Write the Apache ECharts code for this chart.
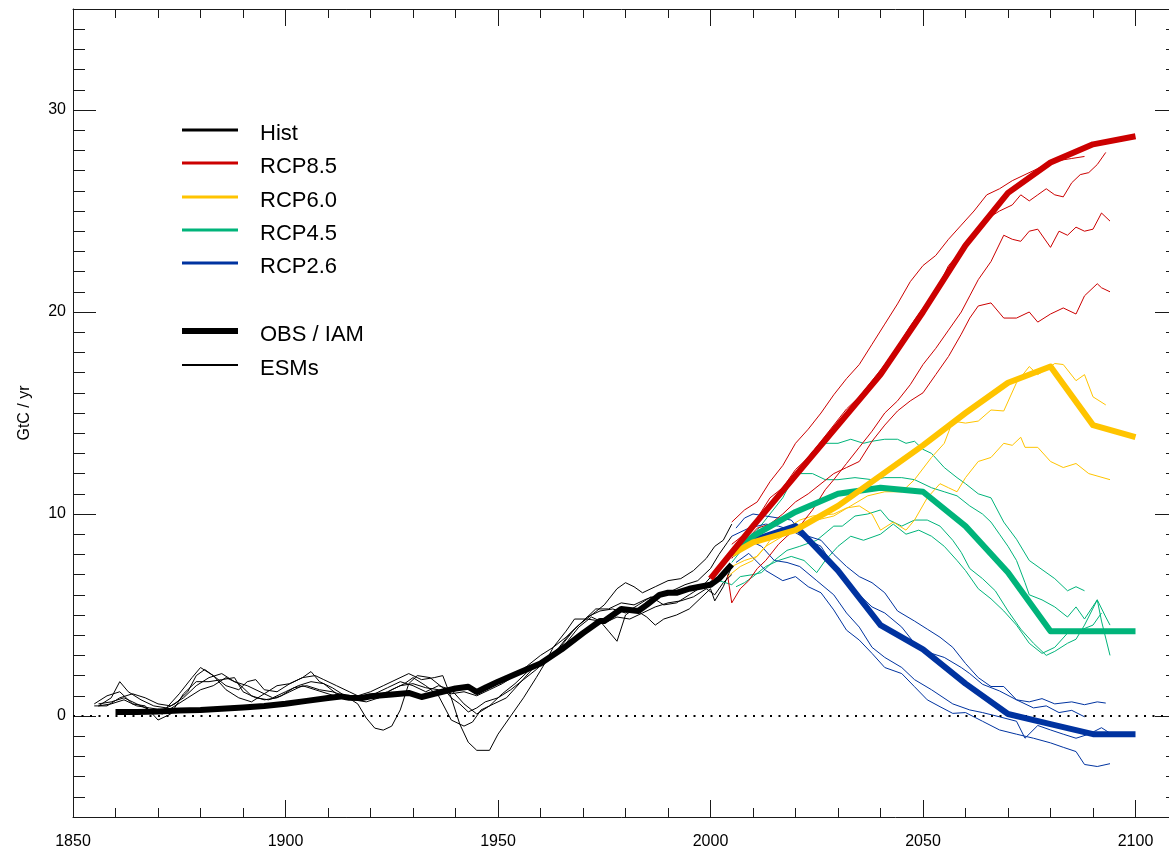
<!DOCTYPE html>
<html>
<head>
<meta charset="utf-8">
<script src="https://cdn.jsdelivr.net/npm/echarts@6/dist/echarts.min.js"></script>
<style>html,body{margin:0;padding:0;background:#fff}#c{width:1169px;height:854px}</style>
</head>
<body>
<div id="c"></div>
<script>
// ---------------- DATA ----------------
const xLabelYears = [1850, 1900, 1950, 2000, 2050, 2100];
const yMajorTicks = [0, 10, 20, 30];

// Observed fossil emissions (thick black)
const obsHist = [[1860,0.2],[1865,0.2],[1870,0.22],[1875,0.27],[1880,0.3],[1885,0.36],[1890,0.42],[1895,0.5],[1900,0.61],[1905,0.75],[1910,0.89],[1913,0.97],[1915,0.9],[1918,0.89],[1920,0.98],[1925,1.07],[1929,1.14],[1932,0.94],[1935,1.1],[1940,1.36],[1943,1.45],[1945,1.19],[1947,1.4],[1950,1.7],[1955,2.15],[1960,2.6],[1965,3.3],[1970,4.1],[1974,4.7],[1975,4.7],[1979,5.3],[1983,5.2],[1985,5.5],[1988,6.0],[1990,6.1],[1992,6.1],[1995,6.3],[2000,6.5],[2002,6.8],[2005,7.5]];

// ESM historical runs (thin black)
const esmHist1 = [[1856,0.5],[1859,0.9],[1861,1.7],[1863,1.2],[1866,0.8],[1869,0.5],[1872,0.4],[1875,1.1],[1878,1.9],[1880,2.4],[1883,2.0],[1886,1.3],[1889,0.9],[1892,0.7],[1895,1.1],[1898,1.5],[1901,1.6],[1904,1.9],[1906,2.2],[1908,1.7],[1911,1.4],[1914,1.0],[1917,1.0],[1920,1.2],[1923,1.5],[1926,1.8],[1929,2.1],[1932,1.8],[1935,1.9],[1937,2.0],[1939,0.9],[1941,-0.4],[1943,-1.3],[1945,-1.7],[1948,-1.7],[1950,-0.9],[1953,0.0],[1956,0.9],[1959,1.9],[1961,2.6],[1963,3.4],[1966,4.2],[1968,4.8],[1971,4.8],[1974,4.7],[1976,4.2],[1978,3.7],[1980,5.0],[1982,5.3],[1985,4.9],[1987,4.5],[1989,4.8],[1992,5.0],[1995,5.3],[1998,5.9],[2000,6.3],[2001,5.7],[2003,6.4],[2005,7.4]];
const esmHist2 = [[1855,0.6],[1858,1.0],[1861,1.2],[1864,0.6],[1867,0.5],[1870,-0.2],[1873,0.1],[1876,1.1],[1879,1.7],[1882,1.7],[1885,1.8],[1888,1.9],[1890,1.2],[1893,0.9],[1896,0.8],[1899,1.0],[1902,1.4],[1905,1.5],[1908,1.3],[1911,1.2],[1914,1.0],[1917,0.6],[1919,-0.1],[1921,-0.6],[1923,-0.7],[1925,-0.5],[1927,0.3],[1929,1.6],[1931,2.0],[1934,1.9],[1937,1.4],[1939,0.9],[1941,0.6],[1943,0.2],[1945,0.4],[1947,0.7],[1950,0.9],[1953,1.3],[1956,1.8],[1959,2.3],[1962,2.9],[1965,3.5],[1968,4.3],[1971,4.9],[1974,5.2],[1977,5.3],[1980,5.1],[1983,5.5],[1986,5.9],[1989,5.5],[1992,5.6],[1995,6.0],[1998,6.4],[2001,7.1],[2003,7.6],[2005,8.0]];
const esmHist3 = [[1856,0.6],[1859,0.7],[1862,0.9],[1865,0.6],[1868,0.3],[1871,0.1],[1874,0.5],[1877,0.9],[1880,1.3],[1883,1.5],[1886,1.9],[1889,1.6],[1892,1.0],[1895,0.8],[1898,0.9],[1901,1.2],[1904,1.5],[1907,1.3],[1910,1.1],[1913,0.9],[1916,0.8],[1919,0.7],[1922,0.9],[1925,1.3],[1928,1.6],[1930,1.9],[1933,1.5],[1936,1.0],[1939,-0.2],[1942,-0.5],[1944,-0.3],[1946,0.3],[1949,0.6],[1952,0.9],[1955,1.6],[1958,2.3],[1961,2.8],[1964,3.3],[1967,4.1],[1970,4.7],[1973,5.3],[1976,5.3],[1979,5.6],[1982,5.5],[1985,5.8],[1988,6.0],[1991,6.2],[1994,6.5],[1997,6.7],[2000,7.3],[2002,8.0],[2004,8.6],[2005,8.9]];
const esmHist4 = [[1856,0.5],[1859,0.6],[1862,0.8],[1865,0.5],[1868,0.4],[1871,0.3],[1874,0.6],[1877,1.2],[1879,2.0],[1881,2.3],[1883,2.0],[1886,1.5],[1889,1.3],[1891,1.7],[1893,1.8],[1895,1.3],[1898,1.2],[1901,1.6],[1904,1.9],[1907,2.0],[1909,1.8],[1912,1.5],[1915,1.2],[1918,0.9],[1921,1.0],[1924,1.2],[1927,1.5],[1930,1.6],[1933,1.4],[1936,1.3],[1939,1.1],[1942,1.2],[1945,1.0],[1948,1.3],[1951,1.6],[1954,2.0],[1957,2.5],[1960,3.0],[1963,3.4],[1966,3.9],[1969,4.5],[1972,5.0],[1975,5.5],[1978,6.3],[1980,6.6],[1982,6.4],[1984,6.1],[1987,6.4],[1990,6.7],[1993,6.8],[1996,7.2],[1999,7.8],[2001,8.4],[2003,8.7],[2005,9.5]];
const esmHist5 = [[1855,0.5],[1858,0.5],[1861,0.9],[1864,1.1],[1867,0.9],[1870,0.6],[1873,0.5],[1876,0.9],[1879,1.5],[1882,1.9],[1885,2.1],[1888,1.7],[1891,1.5],[1894,1.2],[1897,0.9],[1900,1.2],[1903,1.5],[1906,1.7],[1909,1.6],[1912,1.1],[1915,0.9],[1918,1.0],[1921,1.1],[1924,1.4],[1927,1.7],[1930,1.5],[1933,1.2],[1936,1.5],[1939,1.3],[1942,0.6],[1945,0.1],[1948,0.5],[1951,1.1],[1954,1.6],[1957,2.2],[1960,2.7],[1963,3.1],[1966,3.6],[1969,4.4],[1972,4.9],[1975,4.6],[1978,4.9],[1981,4.8],[1984,5.1],[1987,5.4],[1990,5.6],[1993,5.7],[1996,5.9],[1999,6.3],[2001,6.0],[2003,6.6],[2005,7.0]];

// IAM scenarios (thick)
const iam85 = [[2000,6.8],[2005,8.1],[2010,9.4],[2020,11.9],[2030,14.4],[2040,16.9],[2050,20.0],[2060,23.3],[2070,25.9],[2080,27.4],[2090,28.3],[2100,28.7]];
const iam60 = [[2005,8.0],[2010,8.6],[2020,9.2],[2030,10.4],[2040,11.9],[2050,13.4],[2060,15.0],[2070,16.5],[2080,17.3],[2090,14.4],[2100,13.8]];
const iam45 = [[2005,8.0],[2010,8.9],[2020,10.1],[2030,11.0],[2040,11.3],[2050,11.1],[2060,9.4],[2070,7.1],[2080,4.2],[2090,4.2],[2100,4.2]];
const iam26 = [[2005,8.0],[2010,8.7],[2020,9.4],[2030,7.2],[2040,4.5],[2050,3.3],[2060,1.6],[2070,0.1],[2080,-0.4],[2090,-0.9],[2100,-0.9]];

// ESM scenario runs (thin)
const esm85a = [[2005,9.6],[2008,10.2],[2011,10.6],[2014,11.6],[2017,12.4],[2020,13.5],[2023,14.2],[2026,15.0],[2029,15.9],[2032,16.7],[2035,17.4],[2038,18.4],[2041,19.4],[2044,20.4],[2047,21.5],[2050,22.3],[2053,22.8],[2056,23.6],[2059,24.3],[2062,25.0],[2065,25.8],[2068,26.1],[2071,26.5],[2074,26.8],[2077,27.1],[2080,27.4],[2082,27.5],[2085,27.6],[2088,27.7]];
const esm85b = [[2005,8.5],[2008,9.0],[2011,9.8],[2014,10.8],[2017,11.3],[2020,12.2],[2023,12.8],[2026,13.6],[2029,14.4],[2032,15.2],[2035,15.8],[2038,16.6],[2041,17.4],[2044,18.3],[2047,19.3],[2050,20.2],[2053,21.0],[2056,22.3],[2059,23.0],[2062,23.8],[2065,24.6],[2068,25.0],[2071,25.3],[2073,25.8],[2075,25.5],[2077,25.8],[2079,26.1],[2081,25.8],[2083,25.7],[2085,26.4],[2087,26.8],[2089,26.9],[2091,27.3],[2093,27.9]];
const esm85c = [[2004,7.0],[2005,5.6],[2007,6.3],[2009,6.7],[2011,7.3],[2013,7.7],[2016,8.5],[2018,8.9],[2021,9.4],[2024,10.2],[2027,11.2],[2029,11.7],[2032,12.5],[2035,13.3],[2038,14.1],[2041,15.0],[2044,15.6],[2047,16.4],[2050,17.4],[2053,18.2],[2056,19.1],[2059,20.0],[2061,20.8],[2063,21.6],[2066,22.5],[2069,23.8],[2071,23.6],[2073,23.5],[2075,24.0],[2077,24.1],[2080,23.2],[2082,24.0],[2084,23.8],[2086,24.2],[2088,24.0],[2090,24.1],[2092,24.9],[2094,24.5]];
const esm85d = [[2005,7.8],[2008,8.6],[2011,9.3],[2014,9.5],[2017,10.0],[2020,10.6],[2023,11.0],[2026,11.5],[2029,12.0],[2032,12.3],[2035,12.6],[2038,13.6],[2041,14.4],[2044,15.1],[2047,15.6],[2050,16.0],[2053,16.9],[2056,17.8],[2059,18.9],[2061,19.7],[2063,20.3],[2066,20.45],[2069,19.7],[2072,19.7],[2075,20.0],[2077,19.5],[2080,19.9],[2083,20.2],[2086,19.9],[2088,20.8],[2091,21.4],[2092,21.2],[2094,21.0]];

const esm60a = [[2005,7.4],[2008,7.7],[2011,7.9],[2013,8.4],[2017,8.9],[2021,9.5],[2025,9.7],[2029,9.9],[2033,10.4],[2037,10.9],[2041,11.1],[2045,11.1],[2048,11.7],[2052,12.8],[2055,13.5],[2057,14.6],[2060,14.5],[2063,14.6],[2066,15.15],[2069,15.1],[2072,16.5],[2075,17.3],[2077,16.9],[2080,17.3],[2081,17.45],[2083,17.4],[2086,16.6],[2088,16.9],[2090,15.8],[2093,15.4]];
const esm60b = [[2004,6.9],[2007,7.4],[2010,7.7],[2013,8.4],[2015,9.0],[2018,9.3],[2021,9.7],[2024,9.9],[2029,10.0],[2032,10.3],[2035,10.4],[2038,10.0],[2040,9.2],[2043,9.6],[2046,9.2],[2048,9.7],[2051,10.8],[2054,11.5],[2056,11.3],[2058,11.1],[2060,11.8],[2063,12.6],[2066,12.8],[2069,13.5],[2071,13.4],[2073,13.8],[2074,13.3],[2077,13.3],[2080,12.6],[2083,12.3],[2086,12.5],[2089,12.0],[2094,11.7]];

const esm45a = [[2005,8.2],[2008,8.8],[2010,9.4],[2013,10.2],[2016,11.0],[2018,11.5],[2021,12.2],[2024,13.1],[2027,13.5],[2030,13.5],[2033,13.7],[2036,13.5],[2038,13.6],[2041,13.7],[2044,13.7],[2046,13.5],[2048,13.6],[2050,13.2],[2052,13.0],[2055,12.3],[2058,11.8],[2060,11.5],[2063,11.0],[2066,10.8],[2069,9.6],[2072,8.75],[2075,7.7],[2078,7.25],[2081,6.8],[2084,6.2],[2086,6.4],[2088,6.2]];
const esm45b = [[2005,7.6],[2008,8.4],[2011,9.2],[2014,10.0],[2017,10.8],[2019,11.6],[2021,12.0],[2024,12.0],[2027,11.7],[2030,11.7],[2034,11.8],[2038,11.7],[2041,11.8],[2045,11.8],[2048,11.7],[2052,11.3],[2055,11.1],[2058,10.9],[2061,10.4],[2064,10.0],[2066,9.6],[2068,9.0],[2070,8.4],[2072,7.7],[2074,6.6],[2075,6.0],[2078,5.75],[2081,5.4],[2084,4.9],[2086,5.4],[2088,4.8],[2091,5.75],[2093,4.9],[2094,4.5]];
const esm45c = [[2002,6.7],[2005,6.5],[2007,6.9],[2010,7.0],[2012,7.1],[2015,7.7],[2018,8.2],[2021,8.4],[2025,8.7],[2029,9.4],[2031,9.4],[2034,9.9],[2037,10.0],[2040,10.2],[2042,9.7],[2045,9.4],[2048,9.7],[2051,9.7],[2054,9.4],[2057,8.7],[2059,8.1],[2061,7.3],[2064,6.8],[2067,6.2],[2070,5.2],[2073,4.3],[2076,3.6],[2079,3.0],[2081,3.2],[2084,3.6],[2086,3.8],[2088,4.5],[2091,5.75],[2092,4.7],[2094,3.0]];
const esm45d = [[2006,6.4],[2008,6.6],[2010,6.9],[2013,7.4],[2016,7.7],[2019,7.9],[2022,7.7],[2025,7.1],[2027,7.7],[2030,8.4],[2033,8.9],[2036,8.7],[2040,9.0],[2043,9.5],[2046,9.0],[2049,9.2],[2052,8.9],[2055,8.4],[2058,7.7],[2060,7.2],[2063,6.3],[2066,5.8],[2069,5.2],[2072,4.5],[2075,3.6],[2078,3.1],[2081,3.4],[2084,4.1],[2087,4.25],[2090,4.5],[2092,5.1]];

const esm26a = [[2006,9.3],[2008,9.8],[2010,10.0],[2013,9.9],[2016,9.8],[2019,9.7],[2021,9.2],[2023,8.9],[2026,8.7],[2029,8.0],[2032,7.4],[2035,6.9],[2038,6.6],[2041,6.1],[2044,5.2],[2048,4.7],[2051,4.3],[2054,3.9],[2057,3.4],[2060,2.6],[2063,1.9],[2066,1.46],[2069,1.46],[2072,0.8],[2075,0.7],[2078,0.86],[2081,0.6],[2085,0.7],[2088,0.56],[2091,0.7],[2093,0.64]];
const esm26b = [[2005,8.9],[2009,9.3],[2013,9.5],[2016,9.4],[2019,9.2],[2023,8.7],[2026,8.4],[2029,7.4],[2032,6.7],[2035,6.0],[2038,5.4],[2041,5.1],[2045,4.4],[2048,3.6],[2052,3.1],[2055,2.9],[2059,2.4],[2061,2.1],[2064,1.57],[2068,1.24],[2072,0.8],[2076,0.4],[2079,0.5],[2082,0.17],[2085,0.28],[2088,-0.04]];
const esm26c = [[2007,8.8],[2010,8.6],[2012,8.4],[2015,7.7],[2018,7.6],[2021,7.4],[2025,6.7],[2029,6.0],[2032,5.1],[2035,4.4],[2038,3.4],[2041,2.9],[2045,2.4],[2048,1.8],[2052,1.3],[2057,0.6],[2061,0.3],[2064,0.17],[2068,-0.04],[2072,-0.26],[2074,-1.1],[2077,-0.47],[2080,-0.69],[2083,-0.9],[2086,-1.1],[2089,-0.9],[2092,-0.58],[2094,-0.85]];
const esm26d = [[2006,7.6],[2009,8.05],[2013,7.2],[2017,6.7],[2020,6.9],[2023,6.4],[2026,6.1],[2029,5.25],[2032,4.25],[2035,3.76],[2038,3.1],[2041,2.4],[2045,2.1],[2048,1.45],[2051,0.8],[2054,0.46],[2057,0.13],[2060,0.17],[2064,-0.26],[2068,-0.69],[2072,-0.9],[2076,-1.1],[2080,-1.33],[2083,-1.55],[2086,-1.76],[2088,-2.4],[2091,-2.5],[2094,-2.36]];

const legendNames = ['Hist', 'RCP8.5', 'RCP6.0', 'RCP4.5', 'RCP2.6', 'OBS / IAM', 'ESMs'];

// ---------------- STYLE ----------------
const FONT = 'Liberation Sans, Arial, Helvetica, sans-serif';
const AX = '#1a1a1a';
const COL = { hist: '#000000', r85: '#cc0000', r60: '#ffc400', r45: '#00b47a', r26: '#0033a0' };

function thin(data, color) {
  return { type: 'line', data: data, symbol: 'none', showSymbol: false, silent: true,
    lineStyle: { color: color, width: 1 }, z: 2 };
}
function thick(data, color, z) {
  return { type: 'line', data: data, symbol: 'none', showSymbol: false, silent: true,
    lineStyle: { color: color, width: 6, join: 'round' }, z: z };
}

const series = [
  Object.assign(thin(esmHist1, COL.hist), {
    markLine: { silent: true, symbol: 'none', label: { show: false },
      lineStyle: { color: '#000', type: [2, 6.5], width: 2 }, data: [{ yAxis: 0 }] }
  }),
  thin(esmHist2, COL.hist), thin(esmHist3, COL.hist), thin(esmHist4, COL.hist), thin(esmHist5, COL.hist),
  thin(esm45a, COL.r45), thin(esm45b, COL.r45), thin(esm45c, COL.r45), thin(esm45d, COL.r45),
  thin(esm26a, COL.r26), thin(esm26b, COL.r26), thin(esm26c, COL.r26), thin(esm26d, COL.r26),
  thin(esm60a, COL.r60), thin(esm60b, COL.r60),
  thin(esm85a, COL.r85), thin(esm85b, COL.r85), thin(esm85c, COL.r85), thin(esm85d, COL.r85),
  thick(obsHist, COL.hist, 5),
  thick(iam26, COL.r26, 6),
  thick(iam45, COL.r45, 7),
  thick(iam60, COL.r60, 8),
  thick(iam85, COL.r85, 9)
];

const legendStyles = [
  { color: COL.hist, width: 3 }, { color: COL.r85, width: 3 }, { color: COL.r60, width: 3 },
  { color: COL.r45, width: 3 }, { color: COL.r26, width: 3 }, { color: '#000', width: 6 }, { color: '#000', width: 2 }
];
const legendRowY = [130, 163, 197, 230, 263, 331, 365];
const graphic = [];
legendNames.forEach((n, i) => {
  graphic.push({ type: 'line', shape: { x1: 182, y1: legendRowY[i], x2: 238, y2: legendRowY[i] },
    style: { stroke: legendStyles[i].color, lineWidth: legendStyles[i].width }, silent: true });
  graphic.push({ type: 'text', x: 260, y: legendRowY[i] + 4,
    style: { text: n, fill: '#000', font: '22px ' + FONT, textVerticalAlign: 'middle', verticalAlign: 'middle' }, silent: true });
});

function xAxisDef(pos, showLabel) {
  return {
    type: 'value', position: pos, min: 1850, max: 2110, interval: 50,
    axisLine: { show: true, onZero: false, lineStyle: { color: AX, width: 1 } },
    axisTick: { show: true, inside: true, length: 17, lineStyle: { color: AX, width: 1 } },
    minorTick: { show: true, splitNumber: 5, length: 9, lineStyle: { color: AX, width: 1 } },
    splitLine: { show: false }, minorSplitLine: { show: false },
    axisLabel: { show: showLabel, margin: 17, fontSize: 16, color: '#000', fontFamily: FONT,
      formatter: v => (xLabelYears.indexOf(v) >= 0 ? String(v) : '') }
  };
}
function yMinorAxis(pos, showLabel) {
  const a = {
    type: 'value', position: pos, min: -5, max: 35, interval: 1,
    axisLine: { show: true, onZero: false, lineStyle: { color: AX, width: 1 } },
    axisTick: { show: true, inside: true, length: 12, lineStyle: { color: AX, width: 1 } },
    splitLine: { show: false },
    axisLabel: { show: showLabel, margin: 7, fontSize: 16, color: '#000', fontFamily: FONT,
      formatter: v => (yMajorTicks.indexOf(v) >= 0 ? String(v) : '') }
  };
  if (showLabel) {
    a.name = 'GtC / yr'; a.nameLocation = 'middle'; a.nameGap = 40;
    a.nameTextStyle = { fontSize: 16, fontFamily: FONT, color: '#000' };
  }
  return a;
}
function yMajorAxis(pos) {
  return {
    type: 'value', position: pos, min: -5, max: 35,
    axisLine: { show: false, onZero: false },
    axisTick: { show: true, inside: true, length: 23, customValues: yMajorTicks, lineStyle: { color: AX, width: 1 } },
    axisLabel: { show: false }, splitLine: { show: false }
  };
}

const chart = echarts.init(document.getElementById('c'), null, { renderer: 'canvas' });
chart.setOption({
  backgroundColor: '#fff',
  animation: false,
  grid: { left: 73, top: 9, width: 1105, height: 808, containLabel: false, outerBoundsMode: 'none' },
  xAxis: [xAxisDef('bottom', true), xAxisDef('top', false)],
  yAxis: [yMinorAxis('left', true), yMajorAxis('left'), yMinorAxis('right', false), yMajorAxis('right')],
  series: series,
  graphic: graphic
});
</script>
</body>
</html>
